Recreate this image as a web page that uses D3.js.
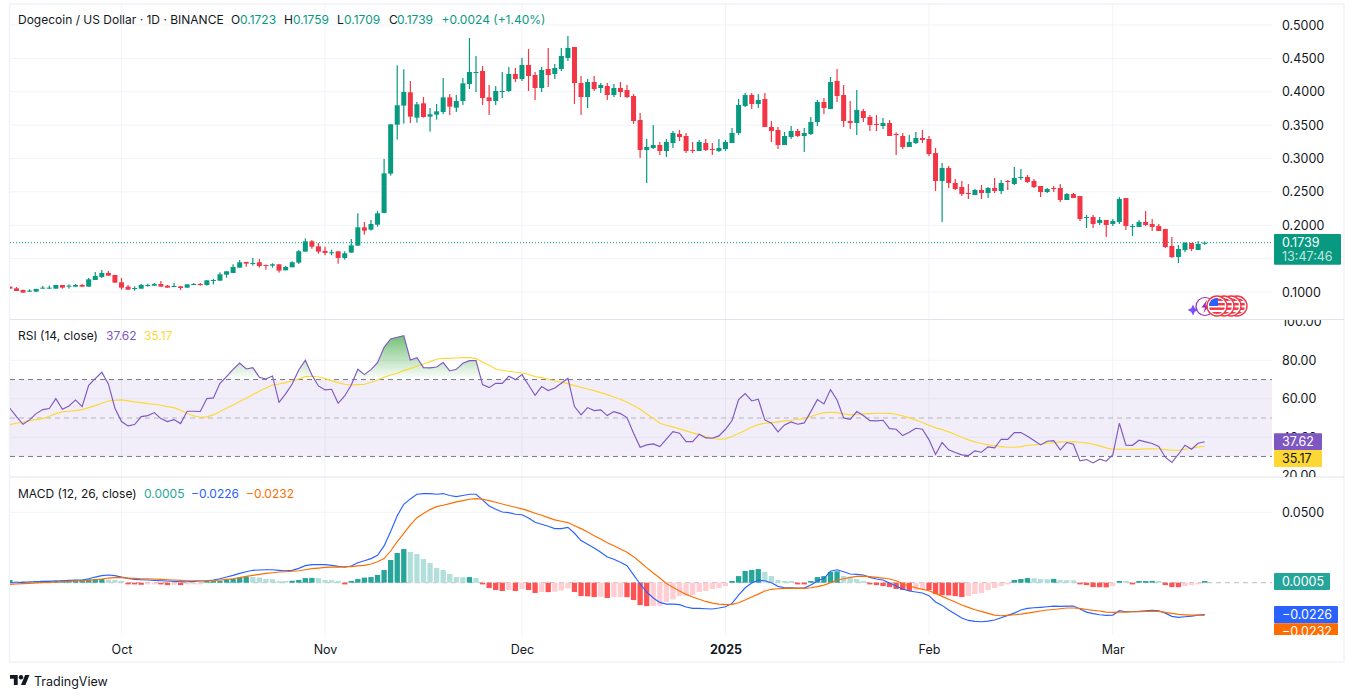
<!DOCTYPE html>
<html>
<head>
<meta charset="utf-8">
<script src="https://cdn.jsdelivr.net/npm/d3@7"></script>
<style>
  html, body { margin: 0; padding: 0; background: #fff; }
  svg { display: block; }
  text { font-family: Inter, Roboto, sans-serif; font-size: 12.5px; fill: #131722; }
</style>
</head>
<body>
<svg id="chart" width="1355" height="698"></svg>
<script>
// daily candles
var opens = [
  .1080,.1055,.1030,.1005,.1005,.1055,.1055,.1050,.1105,.1080,
  .1080,.1105,.1080,.1180,.1225,.1285,.1255,.1145,.1080,.1050,
  .1050,.1090,.1095,.1120,.1095,.1080,.1085,.1065,.1110,.1120,
  .1105,.1170,.1170,.1260,.1285,.1365,.1450,.1425,.1445,.1405,
  .1395,.1415,.1325,.1370,.1440,.1605,.1759,.1684,.1615,.1585,
  .1610,.1510,.1590,.1694,.1969,.1934,.2009,.2184,.2773,.3507,
  .3792,.3992,.3612,.3827,.3627,.3657,.3697,.3916,.3762,.3861,
  .4116,.4286,.4311,.3916,.3861,.4001,.4011,.4266,.4191,.4401,
  .4251,.4056,.4341,.4266,.4341,.4506,.4670,.4131,.3921,.4146,
  .4056,.4086,.3951,.4056,.4026,.3936,.3577,.3127,.3157,.3202,
  .3112,.3232,.3367,.3337,.3127,.3112,.3232,.3142,.3112,.3142,
  .3232,.3382,.3787,.3951,.3817,.3891,.3472,.3427,.3202,.3322,
  .3412,.3337,.3367,.3547,.3846,.3742,.4161,.3951,.3562,.3532,
  .3712,.3622,.3517,.3487,.3532,.3367,.3337,.3172,.3232,.3307,
  .3292,.3082,.2663,.2858,.2633,.2573,.2483,.2453,.2528,.2483,
  .2558,.2513,.2663,.2618,.2708,.2723,.2663,.2588,.2498,.2558,
  .2558,.2378,.2468,.2438,.2109,.2124,.2034,.2079,.2019,.2049,
  .2408,.1979,.1974,.2049,.2019,.1989,.1944,.1689,.1524,.1629,
  .1734,.1629,.1723];
var closes = [
  .1050,.1015,.0990,.1020,.1045,.1065,.1065,.1105,.1065,.1095,
  .1105,.1080,.1190,.1240,.1285,.1245,.1140,.1065,.1035,.1060,
  .1105,.1105,.1120,.1080,.1065,.1090,.1060,.1115,.1120,.1105,
  .1175,.1180,.1265,.1310,.1375,.1445,.1425,.1435,.1390,.1395,
  .1415,.1320,.1375,.1445,.1610,.1759,.1679,.1605,.1585,.1595,
  .1510,.1580,.1699,.1969,.1919,.2019,.2179,.2778,.3512,.3797,
  .3997,.3627,.3812,.3622,.3662,.3707,.3916,.3777,.3861,.4126,
  .4296,.4296,.3906,.3861,.4011,.4011,.4266,.4191,.4401,.4236,
  .4056,.4326,.4251,.4356,.4536,.4656,.4131,.3921,.4146,.4041,
  .4101,.3951,.4056,.3996,.3921,.3562,.3127,.3172,.3202,.3112,
  .3247,.3382,.3322,.3112,.3112,.3247,.3127,.3127,.3157,.3247,
  .3382,.3802,.3951,.3817,.3876,.3472,.3412,.3202,.3337,.3412,
  .3337,.3382,.3547,.3846,.3757,.4146,.3936,.3562,.3532,.3727,
  .3607,.3502,.3502,.3532,.3337,.3352,.3172,.3247,.3307,.3277,
  .3067,.2663,.2858,.2633,.2543,.2468,.2468,.2528,.2483,.2558,
  .2513,.2633,.2648,.2708,.2723,.2648,.2573,.2498,.2543,.2543,
  .2378,.2468,.2408,.2094,.2124,.2019,.2079,.2004,.2064,.2393,
  .1989,.1989,.2049,.2004,.1974,.1914,.1674,.1524,.1644,.1734,
  .1644,.1719,.1739];
var highs = [
  .1085,.1075,.1035,.1040,.1050,.1090,.1095,.1105,.1105,.1115,
  .1120,.1120,.1210,.1300,.1330,.1315,.1255,.1210,.1105,.1085,
  .1120,.1125,.1135,.1165,.1105,.1135,.1085,.1115,.1135,.1135,
  .1175,.1195,.1295,.1310,.1415,.1480,.1450,.1510,.1495,.1410,
  .1430,.1415,.1390,.1460,.1630,.1804,.1779,.1734,.1679,.1635,
  .1610,.1610,.1794,.2179,.2049,.2079,.2214,.2993,.3512,.4396,
  .4336,.4162,.3847,.3922,.3757,.3817,.4206,.3966,.3951,.4206,
  .4805,.4536,.4386,.4101,.4086,.4296,.4371,.4356,.4506,.4641,
  .4296,.4371,.4656,.4416,.4656,.4835,.4670,.4236,.4191,.4236,
  .4131,.4131,.4116,.4146,.4101,.3966,.3682,.3292,.3502,.3247,
  .3292,.3412,.3427,.3382,.3247,.3277,.3292,.3232,.3292,.3277,
  .3457,.3891,.3981,.3981,.3966,.3981,.3562,.3472,.3397,.3487,
  .3442,.3457,.3622,.3876,.3906,.4221,.4341,.4101,.3861,.4026,
  .3742,.3652,.3652,.3607,.3577,.3392,.3382,.3352,.3397,.3427,
  .3337,.3157,.2933,.2888,.2693,.2663,.2618,.2543,.2603,.2573,
  .2708,.2678,.2678,.2873,.2843,.2753,.2693,.2588,.2558,.2588,
  .2618,.2483,.2483,.2438,.2154,.2154,.2124,.2079,.2094,.2423,
  .2408,.2019,.2079,.2213,.2094,.2019,.1944,.1824,.1704,.1749,
  .1734,.1764,.1759];
var lows = [
  .1050,.1015,.0990,.1000,.1005,.1050,.1050,.1050,.1050,.1050,
  .1080,.1080,.1080,.1180,.1210,.1245,.1140,.1035,.1035,.1020,
  .1050,.1080,.1095,.1080,.1065,.1080,.1030,.1065,.1105,.1095,
  .1095,.1115,.1170,.1215,.1285,.1365,.1380,.1395,.1365,.1335,
  .1365,.1290,.1325,.1370,.1420,.1605,.1649,.1575,.1550,.1550,
  .1425,.1485,.1590,.1694,.1859,.1919,.1979,.2179,.2743,.3283,
  .3522,.3532,.3537,.3612,.3402,.3582,.3667,.3652,.3697,.3802,
  .4041,.3996,.3802,.3652,.3802,.3906,.3996,.4146,.4161,.4011,
  .3876,.3996,.4071,.4191,.4311,.4461,.3817,.3652,.3757,.4011,
  .3981,.3876,.3921,.3921,.3906,.3517,.3008,.2633,.3142,.3052,
  .3022,.3157,.3262,.3082,.3082,.3112,.3112,.3052,.3097,.3112,
  .3232,.3352,.3772,.3742,.3757,.3472,.3247,.3142,.3202,.3292,
  .3322,.3097,.3352,.3487,.3667,.3742,.3846,.3472,.3442,.3352,
  .3547,.3412,.3412,.3442,.3337,.3052,.3142,.3172,.3217,.3232,
  .3037,.2513,.2049,.2558,.2528,.2438,.2393,.2453,.2393,.2408,
  .2483,.2468,.2528,.2603,.2678,.2633,.2558,.2423,.2483,.2498,
  .2348,.2378,.2408,.2064,.1959,.1959,.2004,.1824,.1989,.2019,
  .1929,.1839,.1974,.1989,.1914,.1914,.1659,.1509,.1434,.1599,
  .1614,.1629,.1709];

var rsi = [
  55.06,50.73,46.75,49.00,52.29,54.37,54.89,60.08,54.54,56.27,
  59.39,55.93,67.01,70.47,73.76,67.70,55.06,48.14,45.88,46.58,
  50.73,51.25,52.81,49.69,48.14,49.17,47.10,53.50,53.50,53.40,
  60.08,60.43,68.05,71.51,75.32,78.61,75.50,76.19,71.17,70.30,
  71.86,58.18,62.51,67.70,74.98,80.00,72.38,66.66,64.59,64.93,
  57.66,61.47,67.18,75.32,72.55,75.15,78.79,86.75,91.08,91.95,
  92.81,80.17,81.38,76.19,76.10,76.53,78.79,74.46,75.32,78.44,
  79.82,79.90,67.36,65.80,68.05,68.00,71.69,69.95,72.55,67.18,
  61.82,66.32,64.24,65.63,68.05,70.65,55.93,51.60,55.41,53.85,
  54.20,51.25,53.33,52.29,50.21,42.08,34.80,36.01,36.53,35.15,
  38.96,42.94,42.08,37.75,37.70,41.56,39.65,39.48,40.69,44.15,
  48.65,59.56,62.68,58.87,59.74,49.00,47.27,42.77,46.40,47.96,
  46.75,47.44,53.33,59.56,57.31,64.76,59.39,50.04,49.35,53.33,
  51.25,48.65,48.48,48.83,44.50,44.15,40.86,42.59,44.67,44.15,
  38.78,30.99,37.23,33.42,32.03,30.82,30.47,32.90,32.21,34.98,
  34.46,38.96,38.90,42.42,42.40,40.52,38.27,36.01,37.92,38.27,
  33.42,37.23,36.36,27.70,28.40,26.66,28.57,27.53,30.82,47.27,
  35.84,35.80,38.44,37.57,36.71,35.15,29.61,26.84,31.17,35.84,
  33.76,36.88,37.62];
var rsiMa = [
  46.58,47.27,47.79,48.65,49.17,49.69,50.91,52.29,53.16,53.50,
  53.85,54.37,55.41,56.45,57.66,58.87,59.22,59.39,58.87,58.35,
  58.01,57.49,57.14,56.62,55.93,55.41,54.02,52.47,51.08,50.39,
  50.56,51.60,53.33,55.06,56.79,58.53,60.26,62.16,63.89,65.63,
  67.18,67.70,68.40,69.26,70.30,71.51,71.69,71.34,70.47,69.43,
  68.40,67.53,67.18,67.36,67.53,68.57,69.78,71.17,72.38,73.24,
  74.63,75.67,76.88,78.09,79.30,80.52,81.04,81.04,81.21,81.38,
  81.38,80.86,79.13,77.40,75.50,74.80,74.28,73.76,73.42,72.72,
  71.51,70.99,70.13,69.26,68.57,67.88,66.84,65.97,65.11,64.24,
  63.20,62.16,60.95,59.74,58.18,56.45,54.54,52.12,49.87,47.27,
  46.23,45.37,44.33,43.29,42.25,41.38,40.34,39.48,38.96,39.13,
  40.34,41.90,43.46,45.19,46.58,47.27,47.44,47.96,48.48,48.83,
  49.35,49.69,50.73,51.95,52.81,52.98,52.81,52.12,51.60,51.95,
  52.12,52.29,52.47,52.47,52.40,51.95,51.08,50.04,49.00,47.62,
  46.23,44.85,43.98,42.77,41.38,40.00,38.61,37.57,36.71,36.01,
  35.50,35.15,34.80,34.80,35.15,35.84,36.01,36.36,36.88,37.23,
  37.57,37.57,37.75,37.40,37.05,36.36,35.50,34.46,33.76,33.76,
  33.76,33.70,33.70,33.94,33.94,33.90,33.59,33.24,33.24,33.76,
  34.28,34.98,35.17];

var macdHist = [
  .0019,.0010,.0009,.0008,.0012,.0013,.0014,.0015,.0016,.0017,
  .0018,.0019,.0024,.0025,.0027,.0022,.0019,.0009,-.0007,-.0010,
  -.0015,-.0012,-.0010,-.0011,-.0017,-.0015,-.0017,-.0010,-.0008,-.0007,
  .0005,.0007,.0014,.0024,.0028,.0036,.0043,.0040,.0036,.0026,
  .0025,.0012,.0011,.0014,.0019,.0033,.0034,.0033,.0019,.0018,
  .0007,-.0002,.0005,.0026,.0036,.0040,.0055,.0090,.0161,.0211,
  .0239,.0218,.0204,.0168,.0140,.0104,.0090,.0062,.0040,.0039,
  .0040,.0033,-.0007,-.0038,-.0052,-.0059,-.0052,-.0059,-.0045,-.0052,
  -.0073,-.0066,-.0067,-.0064,-.0055,-.0040,-.0066,-.0095,-.0097,-.0102,
  -.0100,-.0109,-.0102,-.0101,-.0103,-.0123,-.0159,-.0166,-.0165,-.0164,
  -.0137,-.0119,-.0095,-.0090,-.0088,-.0066,-.0059,-.0045,-.0038,-.0024,
  .0005,.0047,.0083,.0090,.0097,.0076,.0047,.0019,.0012,.0005,
  -.0002,-.0004,.0012,.0040,.0047,.0076,.0081,.0047,.0033,.0026,
  .0012,-.0009,-.0017,-.0024,-.0031,-.0045,-.0052,-.0059,-.0052,-.0045,
  -.0052,-.0081,-.0088,-.0090,-.0095,-.0102,-.0095,-.0081,-.0073,-.0052,
  -.0038,-.0024,-.0009,.0019,.0026,.0033,.0032,.0026,.0025,.0027,
  .0019,.0018,.0017,-.0009,-.0017,-.0031,-.0032,-.0033,-.0024,.0012,
  .0005,-.0002,.0005,.0012,.0013,.0005,-.0017,-.0031,-.0032,-.0024,
  -.0017,-.0009,.0005];
var macdLine = [
  0,0,.0002,.0005,.0007,.0009,.0009,.0012,.0014,.0017,
  .0019,.0019,.0028,.0040,.0050,.0055,.0050,.0040,.0031,.0024,
  .0021,.0019,.0017,.0014,.0012,.0009,.0007,.0007,.0009,.0012,
  .0014,.0019,.0028,.0040,.0052,.0066,.0078,.0088,.0090,.0092,
  .0092,.0088,.0085,.0088,.0102,.0121,.0128,.0128,.0128,.0123,
  .0116,.0111,.0119,.0142,.0156,.0171,.0194,.0261,.0363,.0476,
  .0557,.0595,.0628,.0633,.0633,.0628,.0633,.0619,.0611,.0619,
  .0628,.0628,.0588,.0545,.0521,.0502,.0498,.0486,.0483,.0460,
  .0429,.0415,.0401,.0384,.0384,.0393,.0351,.0299,.0273,.0246,
  .0216,.0182,.0166,.0145,.0121,.0055,-.0009,-.0066,-.0109,-.0140,
  -.0152,-.0152,-.0156,-.0173,-.0182,-.0182,-.0185,-.0187,-.0180,-.0171,
  -.0147,-.0088,-.0036,-.0002,.0017,.0014,0,-.0026,-.0036,-.0036,
  -.0038,-.0038,-.0017,.0012,.0031,.0081,.0092,.0078,.0062,.0059,
  .0055,.0038,.0026,.0019,-.0002,-.0024,-.0045,-.0059,-.0066,-.0073,
  -.0092,-.0137,-.0161,-.0194,-.0223,-.0251,-.0268,-.0275,-.0277,-.0273,
  -.0265,-.0249,-.0232,-.0216,-.0194,-.0182,-.0178,-.0175,-.0171,-.0166,
  -.0168,-.0166,-.0166,-.0187,-.0209,-.0220,-.0228,-.0232,-.0230,-.0199,
  -.0206,-.0206,-.0204,-.0199,-.0197,-.0199,-.0216,-.0239,-.0246,-.0242,
  -.0237,-.0230,-.0226];
var macdSignal = [
  -.0012,-.0009,-.0007,-.0005,-.0002,0,.0002,.0005,.0007,.0009,
  .0012,.0014,.0017,.0021,.0026,.0033,.0036,.0036,.0033,.0031,
  .0028,.0028,.0026,.0024,.0021,.0019,.0017,.0014,.0014,.0014,
  .0014,.0014,.0019,.0024,.0028,.0036,.0045,.0052,.0059,.0066,
  .0071,.0076,.0078,.0081,.0085,.0092,.0100,.0104,.0109,.0111,
  .0111,.0114,.0114,.0119,.0123,.0133,.0149,.0171,.0225,.0292,
  .0351,.0410,.0462,.0491,.0519,.0540,.0550,.0562,.0574,.0583,
  .0593,.0597,.0593,.0583,.0571,.0559,.0547,.0536,.0524,.0510,
  .0493,.0479,.0462,.0446,.0436,.0427,.0405,.0384,.0360,.0334,
  .0310,.0284,.0263,.0239,.0216,.0185,.0147,.0107,.0069,.0033,
  -.0005,-.0033,-.0059,-.0083,-.0102,-.0118,-.0133,-.0145,-.0152,-.0156,
  -.0154,-.0142,-.0123,-.0102,-.0081,-.0059,-.0047,-.0043,-.0040,-.0040,
  -.0040,-.0040,-.0036,-.0028,-.0017,0,.0019,.0028,.0038,.0045,
  .0047,.0043,.0038,.0033,.0026,.0014,-.0007,-.0024,-.0036,-.0047,
  -.0057,-.0076,-.0097,-.0118,-.0137,-.0159,-.0175,-.0192,-.0204,-.0218,
  -.0230,-.0235,-.0232,-.0228,-.0223,-.0216,-.0209,-.0201,-.0194,-.0190,
  -.0185,-.0180,-.0180,-.0182,-.0190,-.0197,-.0201,-.0209,-.0211,-.0209,
  -.0209,-.0206,-.0206,-.0204,-.0204,-.0204,-.0211,-.0218,-.0225,-.0228,
  -.0230,-.0230,-.0232];

var priceGrid = [0.1, 0.15, 0.2, 0.25, 0.3, 0.35, 0.4, 0.45, 0.5];
var priceLabels = [0.1, 0.2, 0.25, 0.3, 0.35, 0.4, 0.45, 0.5];
var rsiTicks = [20, 40, 60, 80, 100];
var macdTicks = [0.05];
var monthTicks = ["2024-10-01", "2024-11-01", "2024-12-01", "2025-01-01", "2025-02-01", "2025-03-01"];
var monthLabels = ["Oct", "Nov", "Dec", "2025", "Feb", "Mar"];

var UP = "#089981", DOWN = "#f23645", GRID = "#f0f3fa";
var plotLeft = 10, plotRight = 1272;

var svg = d3.select("#chart");
var dates = d3.utcDay.range(new Date(Date.UTC(2024, 8, 14)), new Date(Date.UTC(2025, 2, 16)));

var x = d3.scaleUtc().domain([dates[0], dates[dates.length - 1]]).range([9.9, 1204.7]);
var yPrice = d3.scaleLinear().domain([0.1, 0.5]).range([292, 25]);
var yRsi = d3.scaleLinear().domain([20, 80]).range([475.7, 360.3]);
var yMacd = d3.scaleLinear().domain([0, 0.05]).range([582.7, 512.3]);

var defs = svg.append("defs");
function addClip(id, x0, y0, w, h) {
  defs.append("clipPath").attr("id", id).append("rect")
    .attr("x", x0).attr("y", y0).attr("width", w).attr("height", h);
}
addClip("clip-main", plotLeft, 4, plotRight - plotLeft, 315);
addClip("clip-rsi", plotLeft, 320, plotRight - plotLeft, 156);
addClip("clip-macd", plotLeft, 478, plotRight - plotLeft, 157);
addClip("clip-rsi-over", plotLeft, 320, plotRight - plotLeft, yRsi(70) - 320);
addClip("clip-axis-rsi", 1273, 320, 72, 157);
addClip("clip-axis-macd", 1273, 478, 72, 157);

var overGrad = defs.append("linearGradient").attr("id", "over-grad")
  .attr("gradientUnits", "userSpaceOnUse")
  .attr("x1", 0).attr("x2", 0).attr("y1", yRsi(92)).attr("y2", yRsi(70));
overGrad.append("stop").attr("offset", 0).attr("stop-color", "#4caf50").attr("stop-opacity", 0.75);
overGrad.append("stop").attr("offset", 1).attr("stop-color", "#4caf50").attr("stop-opacity", 0);

// frame and pane separators
svg.append("rect").attr("x", 9.5).attr("y", 4).attr("width", 1334.5).attr("height", 658)
  .attr("fill", "#fff").attr("stroke", "#f0f3fa").attr("stroke-width", 1.6);

function hGrid(scale, ticks, clip) {
  svg.append("g").attr("clip-path", "url(#" + clip + ")")
    .selectAll("line").data(ticks).join("line")
    .attr("x1", plotLeft).attr("x2", plotRight)
    .attr("y1", scale).attr("y2", scale)
    .attr("stroke", GRID).attr("stroke-width", 1);
}
// vertical month lines run through all panes
svg.append("g").selectAll("line").data(monthTicks).join("line")
  .attr("x1", function(d){ return x(new Date(d)); })
  .attr("x2", function(d){ return x(new Date(d)); })
  .attr("y1", 4).attr("y2", 635)
  .attr("stroke", GRID);

hGrid(yPrice, priceGrid, "clip-main");
hGrid(yRsi, [40, 60, 80], "clip-rsi");
hGrid(yMacd, macdTicks, "clip-macd");

// current price line
svg.append("line").attr("x1", plotLeft).attr("x2", plotRight)
  .attr("y1", yPrice(closes[182])).attr("y2", yPrice(closes[182]))
  .attr("stroke", UP).attr("stroke-width", 1).attr("stroke-dasharray", "1 2");

// candles
var candles = svg.append("g").attr("clip-path", "url(#clip-main)")
  .selectAll("g").data(dates).join("g");
function candleColor(d, i) { return closes[i] >= opens[i] ? UP : DOWN; }
candles.append("rect")
  .attr("x", function(d){ return x(d) - 0.6; }).attr("width", 1.2)
  .attr("y", function(d, i){ return yPrice(highs[i]); })
  .attr("height", function(d, i){ return yPrice(lows[i]) - yPrice(highs[i]); })
  .attr("fill", candleColor);
candles.append("rect")
  .attr("x", function(d){ return x(d) - 2.5; }).attr("width", 5)
  .attr("y", function(d, i){ return yPrice(Math.max(opens[i], closes[i])); })
  .attr("height", function(d, i){ return Math.max(1, Math.abs(yPrice(opens[i]) - yPrice(closes[i]))); })
  .attr("fill", candleColor);

// RSI pane
var rsiPane = svg.append("g").attr("clip-path", "url(#clip-rsi)");
rsiPane.append("rect").attr("x", plotLeft).attr("width", plotRight - plotLeft)
  .attr("y", yRsi(70)).attr("height", yRsi(30) - yRsi(70))
  .attr("fill", "#7e57c2").attr("fill-opacity", 0.1);
[[70, 1], [50, 0.5], [30, 1]].forEach(function(b) {
  rsiPane.append("line").attr("x1", plotLeft).attr("x2", plotRight)
    .attr("y1", yRsi(b[0])).attr("y2", yRsi(b[0]))
    .attr("stroke", "#787b86").attr("stroke-opacity", b[1]).attr("stroke-dasharray", "5 4");
});
var rsiArea = d3.area()
  .x(function(d){ return x(d); })
  .y0(yRsi(70))
  .y1(function(d, i){ return yRsi(rsi[i]); });
rsiPane.append("path").datum(dates).attr("d", rsiArea)
  .attr("clip-path", "url(#clip-rsi-over)").attr("fill", "url(#over-grad)");
function seriesLine(scale, values) {
  return d3.line().x(function(d){ return x(d); }).y(function(d, i){ return scale(values[i]); });
}
rsiPane.append("path").datum(dates).attr("d", seriesLine(yRsi, rsiMa))
  .attr("fill", "none").attr("stroke", "#fdd835").attr("stroke-width", 1.15);
rsiPane.append("path").datum(dates).attr("d", seriesLine(yRsi, rsi))
  .attr("fill", "none").attr("stroke", "#7e57c2").attr("stroke-width", 1.15);

// MACD pane
var macdPane = svg.append("g").attr("clip-path", "url(#clip-macd)");
macdPane.append("line").attr("x1", plotLeft).attr("x2", plotRight)
  .attr("y1", yMacd(0)).attr("y2", yMacd(0))
  .attr("stroke", "#787b86").attr("stroke-opacity", 0.5).attr("stroke-dasharray", "5 4");
function histColor(d, i) {
  var v = macdHist[i], prev = i > 0 ? macdHist[i - 1] : 0;
  if (v >= 0) return v > prev ? "#26a69a" : "#b2dfdb";
  return v < prev ? "#ff5252" : "#ffcdd2";
}
macdPane.selectAll(".bar").data(dates).join("rect").attr("class", "bar")
  .attr("x", function(d){ return x(d) - 2.65; }).attr("width", 5.3)
  .attr("y", function(d, i){ return macdHist[i] >= 0 ? yMacd(0) - Math.max(1.7, yMacd(0) - yMacd(macdHist[i])) : yMacd(0); })
  .attr("height", function(d, i){ return Math.max(1.7, Math.abs(yMacd(macdHist[i]) - yMacd(0))); })
  .attr("fill", histColor);
macdPane.append("path").datum(dates).attr("d", seriesLine(yMacd, macdLine))
  .attr("fill", "none").attr("stroke", "#2962ff").attr("stroke-width", 1.15);
macdPane.append("path").datum(dates).attr("d", seriesLine(yMacd, macdSignal))
  .attr("fill", "none").attr("stroke", "#ff6d00").attr("stroke-width", 1.15);

// pane separators
[319.5, 477].forEach(function(y) {
  svg.append("line").attr("x1", plotLeft).attr("x2", 1344).attr("y1", y).attr("y2", y)
    .attr("stroke", "#e0e3eb").attr("stroke-width", 1);
});

// axes
function styleAxis(g) {
  g.select(".domain").remove();
  g.selectAll(".tick line").remove();
  g.selectAll("text").attr("font-size", null).attr("font-family", null).attr("fill", null);
}
svg.append("g").attr("transform", "translate(1273,0)")
  .call(d3.axisRight(yPrice).tickValues(priceLabels).tickFormat(d3.format(".4f")).tickSize(0).tickPadding(9))
  .call(styleAxis);
svg.append("g").attr("clip-path", "url(#clip-axis-rsi)")
  .append("g").attr("transform", "translate(1273,0)")
  .call(d3.axisRight(d3.scaleLinear().domain([20, 100]).range([yRsi(20), yRsi(100)])).tickValues(rsiTicks).tickFormat(d3.format(".2f")).tickSize(0).tickPadding(9))
  .call(styleAxis);
svg.append("g").attr("clip-path", "url(#clip-axis-macd)")
  .append("g").attr("transform", "translate(1273,0)")
  .call(d3.axisRight(yMacd).tickValues(macdTicks).tickFormat(d3.format(".4f")).tickSize(0).tickPadding(9))
  .call(styleAxis);
svg.append("g").attr("transform", "translate(0,642)")
  .call(d3.axisBottom(x).tickValues(monthTicks.map(function(d){ return new Date(d); }))
    .tickFormat(function(d, i){ return monthLabels[i]; }).tickSize(0).tickPadding(3))
  .call(styleAxis)
  .selectAll("text").style("font-weight", function(d, i){ return monthLabels[i] == "2025" ? "700" : "400"; });

// value boxes on the right edge
function valueBox(y0, y1, w, fill, label, textFill, clip) {
  var g = svg.append("g");
  if (clip) g.attr("clip-path", "url(#" + clip + ")");
  g.append("rect").attr("x", 1274).attr("y", y0).attr("width", w).attr("height", y1 - y0).attr("rx", 1).attr("fill", fill);
  g.append("text").attr("x", 1282).attr("y", (y0 + y1) / 2 + 4.5).style("fill", textFill).text(label);
}
svg.append("rect").attr("x", 1274).attr("y", 234).attr("width", 67).attr("height", 30.7).attr("rx", 1).attr("fill", UP);
svg.append("text").attr("x", 1282).attr("y", 247).style("fill", "#fff").text("0.1739");
svg.append("text").attr("x", 1282).attr("y", 260.5).style("fill", "#fff").style("fill-opacity", 0.75).text("13:47:46");
valueBox(433.3, 450, 48, "#7e57c2", "37.62", "#fff");
valueBox(450, 467, 48, "#fdd835", "35.17", "#131722");
valueBox(573, 590, 56, "#26a69a", "0.0005", "#fff");
valueBox(606, 623.3, 64, "#2962ff", "\u22120.0226", "#fff");
valueBox(623.3, 640.6, 64, "#ff6d00", "\u22120.0232", "#fff", "clip-axis-macd");

// legends
function legend(y, parts) {
  parts.forEach(function(p) {
    svg.append("text").attr("x", p[0]).attr("y", y).style("font-size", "12px").style("fill", p[2]).text(p[1]);
  });
}
legend(23.5, [
  [18, "Dogecoin / US Dollar \u00b7 1D \u00b7 BINANCE", "#131722"],
  [231, "O", "#131722"], [240, "0.1723", UP],
  [284, "H", "#131722"], [293, "0.1759", UP],
  [337, "L", "#131722"], [344, "0.1709", UP],
  [389, "C", "#131722"], [397, "0.1739", UP],
  [441.5, "+0.0024 (+1.40%)", UP]
]);
legend(340, [[18, "RSI (14, close)", "#131722"], [106, "37.62", "#7e57c2"], [144, "35.17", "#fdd835"]]);
legend(498, [[18, "MACD (12, 26, close)", "#131722"], [144, "0.0005", "#26a69a"],
  [191, "\u22120.0226", "#2962ff"], [246, "\u22120.0232", "#ff6d00"]]);

// attribution mark
var logo = svg.append("g").attr("transform", "translate(10,672.8) scale(0.55)").attr("fill", "#131722");
logo.append("path").attr("d", "M14 22H7V11H0V4h14v18zM28 22h-8l7.5-18h8L28 22z");
logo.append("circle").attr("cx", 20).attr("cy", 8).attr("r", 4);
svg.append("text").attr("x", 34).attr("y", 686).text("TradingView");

// event badges under the last candles
var badges = svg.append("g");
var flagCenters = [1237, 1231, 1224, 1217];
flagCenters.forEach(function(cx, i) {
  defs.append("clipPath").attr("id", "flag-" + i).append("circle").attr("cx", cx).attr("cy", 306).attr("r", 8);
});
badges.append("circle").attr("cx", 1205).attr("cy", 306.5).attr("r", 9).attr("fill", "#fff").attr("stroke", "#9c27b0").attr("stroke-width", 1.2);
badges.append("path").attr("d", "M1193 304.5 L1194.8 308.2 L1198.5 310 L1194.8 311.8 L1193 315.5 L1191.2 311.8 L1187.5 310 L1191.2 308.2 Z").attr("fill", "#7c4dff");
badges.append("path").attr("d", "M1207 300 L1201.5 307.5 L1205 307.5 L1203.5 313 L1209 305.5 L1205.5 305.5 Z").attr("fill", "#9c27b0");
flagCenters.forEach(function(cx, i) {
  var g = badges.append("g");
  g.append("circle").attr("cx", cx).attr("cy", 306).attr("r", 10).attr("fill", "#fff").attr("stroke", DOWN).attr("stroke-width", 1.4);
  var inner = g.append("g").attr("clip-path", "url(#flag-" + i + ")");
  inner.append("rect").attr("x", cx - 8).attr("y", 298).attr("width", 16).attr("height", 16).attr("fill", "#fff");
  [298.5, 303, 307.5, 312].forEach(function(sy) {
    inner.append("rect").attr("x", cx - 8).attr("y", sy).attr("width", 16).attr("height", 2.4).attr("fill", DOWN);
  });
  inner.append("rect").attr("x", cx - 8).attr("y", 298).attr("width", 9).attr("height", 8).attr("fill", "#2962ff");
});
</script>
</body>
</html>
